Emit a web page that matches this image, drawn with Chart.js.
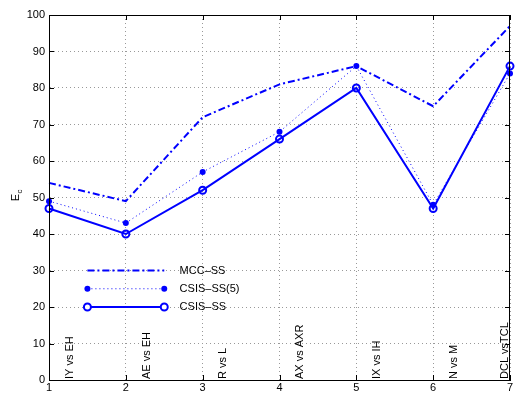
<!DOCTYPE html>
<html>
<head>
<meta charset="utf-8">
<script src="https://cdn.jsdelivr.net/npm/chart.js@4"></script>
<style>
  html, body { margin: 0; padding: 0; background: #fff; }
  #wrap { width: 516px; height: 394px; }
</style>
</head>
<body>
<div id="wrap"><canvas id="chart" width="516" height="394"></canvas></div>
<script>
// E_c per phoneme pair, three methods
const xValues = [1, 2, 3, 4, 5, 6, 7];
const mccSS = [54, 49, 72, 81, 86, 75, 97];
const csisSS5 = [49, 43, 57, 68, 86, 48, 84];
const csisSS = [47, 40, 52, 66, 80, 47, 86];
const pairLabels = ['IY vs EH', 'AE vs EH', 'R vs L', 'AX vs AXR', 'IX vs IH', 'N vs M', 'DCL vsTCL'];
const yTicks = [0, 10, 20, 30, 40, 50, 60, 70, 80, 90, 100];

const BLUE = '#0000ff';
const FONT = '11px "Liberation Sans", Arial, sans-serif';

const toPoints = arr => arr.map((v, i) => ({ x: xValues[i], y: v }));

// inward tick marks, rotated pair labels, legend and y title
const decorations = {
    id: 'decorations',
    afterDraw(chart) {
        const ctx = chart.ctx;
        const xs = chart.scales.x, ys = chart.scales.y;
        const a = chart.chartArea;
        ctx.save();

        // tick marks on all four sides (pointing inward)
        ctx.strokeStyle = '#000';
        ctx.lineWidth = 1;
        ctx.beginPath();
        xValues.forEach(v => {
            const px = Math.round(xs.getPixelForValue(v)) + 0.5;
            ctx.moveTo(px, a.bottom); ctx.lineTo(px, a.bottom - 5);
            ctx.moveTo(px, a.top); ctx.lineTo(px, a.top + 5);
        });
        yTicks.forEach(v => {
            const py = Math.round(ys.getPixelForValue(v)) + 0.5;
            ctx.moveTo(a.left, py); ctx.lineTo(a.left + 5, py);
            ctx.moveTo(a.right, py); ctx.lineTo(a.right - 5, py);
        });
        ctx.stroke();

        // rotated labels along the bottom
        ctx.fillStyle = '#000';
        ctx.font = FONT;
        ctx.textAlign = 'left';
        ctx.textBaseline = 'middle';
        pairLabels.forEach((txt, i) => {
            let px = xs.getPixelForValue(xValues[i] + 0.27);
            px = Math.min(px, a.right - 5);
            ctx.save();
            ctx.translate(px, a.bottom - 1);
            ctx.rotate(-Math.PI / 2);
            ctx.fillText(txt, 0, 0);
            ctx.restore();
        });

        // legend placed in data coordinates
        const items = [
            { label: 'MCC\u2013SS', dash: [7, 3, 2, 3], width: 2, marker: null },
            { label: 'CSIS\u2013SS(5)', dash: [1, 3], width: 1, marker: 'dot' },
            { label: 'CSIS\u2013SS', dash: [], width: 2, marker: 'circle' }
        ];
        const lx0 = xs.getPixelForValue(1.5), lx1 = xs.getPixelForValue(2.5);
        const tx = xs.getPixelForValue(2.7);
        const legendY = [30, 25, 20];
        items.forEach((it, i) => {
            const py = ys.getPixelForValue(legendY[i]);
            ctx.strokeStyle = BLUE;
            ctx.lineWidth = it.width;
            ctx.setLineDash(it.dash);
            ctx.beginPath();
            ctx.moveTo(lx0, py); ctx.lineTo(lx1, py);
            ctx.stroke();
            ctx.setLineDash([]);
            [lx0, lx1].forEach(mx => {
                if (it.marker === 'dot') {
                    ctx.fillStyle = BLUE;
                    ctx.beginPath(); ctx.arc(mx, py, 3, 0, Math.PI * 2); ctx.fill();
                } else if (it.marker === 'circle') {
                    ctx.lineWidth = 2;
                    ctx.fillStyle = '#fff';
                    ctx.beginPath(); ctx.arc(mx, py, 3.5, 0, Math.PI * 2); ctx.fill(); ctx.stroke();
                }
            });
            ctx.fillStyle = '#000';
            ctx.font = FONT;
            ctx.textBaseline = 'middle';
            ctx.fillText(it.label, tx, py);
        });

        // y axis title E_c
        ctx.save();
        ctx.translate(16, (a.top + a.bottom) / 2);
        ctx.rotate(-Math.PI / 2);
        ctx.textAlign = 'center';
        ctx.font = FONT;
        ctx.fillText('E', 0, 0);
        ctx.font = '8px "Liberation Sans", Arial, sans-serif';
        ctx.fillText('c', 6, 4);
        ctx.restore();

        ctx.restore();
    }
};

new Chart(document.getElementById('chart'), {
    type: 'line',
    data: {
        datasets: [
            {
                label: 'MCC-SS',
                data: toPoints(mccSS),
                borderColor: BLUE,
                borderWidth: 2,
                borderDash: [7, 3, 2, 3],
                pointRadius: 0,
                tension: 0
            },
            {
                label: 'CSIS-SS(5)',
                data: toPoints(csisSS5),
                borderColor: BLUE,
                borderWidth: 1,
                borderDash: [1, 3],
                pointRadius: 3,
                pointBackgroundColor: BLUE,
                pointBorderColor: BLUE,
                pointBorderWidth: 0,
                tension: 0
            },
            {
                label: 'CSIS-SS',
                data: toPoints(csisSS),
                borderColor: BLUE,
                borderWidth: 2,
                pointRadius: 3.5,
                pointBackgroundColor: 'rgba(255,255,255,0)',
                pointBorderColor: BLUE,
                pointBorderWidth: 2,
                tension: 0
            }
        ]
    },
    options: {
        responsive: false,
        animation: false,
        clip: false,
        layout: { padding: { top: 15, right: 3, left: 0, bottom: 0 } },
        plugins: {
            legend: { display: false },
            tooltip: { enabled: false }
        },
        scales: {
            x: {
                type: 'linear',
                min: 1,
                max: 7,
                afterFit: s => { s.height = 14; },
                afterBuildTicks: s => { s.ticks = xValues.map(v => ({ value: v })); },
                ticks: {
                    color: '#000',
                    font: { family: '"Liberation Sans", Arial, sans-serif', size: 11 },
                    padding: 1,
                    maxRotation: 0
                },
                grid: {
                    color: '#999',
                    lineWidth: 1,
                    drawTicks: false,
                    tickBorderDash: [1, 3]
                },
                border: { display: true, color: '#000', width: 1, dash: [1, 3] }
            },
            y: {
                min: 0,
                max: 100,
                afterFit: s => { s.width = 49; },
                afterBuildTicks: s => { s.ticks = yTicks.map(v => ({ value: v })); },
                ticks: {
                    color: '#000',
                    font: { family: '"Liberation Sans", Arial, sans-serif', size: 11 },
                    padding: 4
                },
                grid: {
                    color: '#999',
                    lineWidth: 1,
                    drawTicks: false
                },
                border: { display: true, color: '#000', width: 1, dash: [1, 3] }
            }
        }
    },
    plugins: [decorations, {
        id: 'frame',
        afterDatasetsDraw(chart) {
            const ctx = chart.ctx, a = chart.chartArea;
            ctx.save();
            ctx.strokeStyle = '#000';
            ctx.lineWidth = 1;
            ctx.setLineDash([]);
            ctx.strokeRect(Math.round(a.left) + 0.5, Math.round(a.top) + 0.5,
                Math.round(a.right - a.left) - 1, Math.round(a.bottom - a.top));
            ctx.restore();
        }
    }]
});
</script>
</body>
</html>
